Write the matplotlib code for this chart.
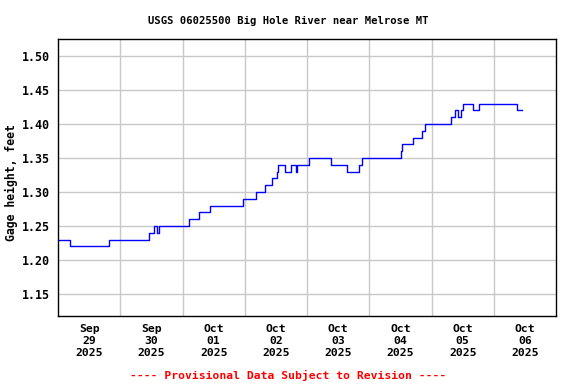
import matplotlib
matplotlib.use("Agg")
import matplotlib.pyplot as plt
from datetime import datetime, timedelta

# gage height steps: (hours after Sep 29 00:00, value in feet)
hours = [0.0, 4.6, 19.7, 35.2, 37.1, 38.0, 39.1, 50.6, 54.5, 58.7,
         71.5, 76.4, 79.9, 82.4, 84.5, 84.9, 87.6, 89.8, 91.8, 92.0,
         96.6, 105.1, 111.3, 115.9, 117.1, 132.1, 132.7, 137.0, 140.4, 141.6,
         151.7, 153.2, 154.3, 155.5, 156.2, 160.1, 162.3, 177.1, 178.9]
gage = [1.23, 1.22, 1.23, 1.24, 1.25, 1.24, 1.25, 1.26, 1.27, 1.28,
        1.29, 1.30, 1.31, 1.32, 1.33, 1.34, 1.33, 1.34, 1.33, 1.34,
        1.35, 1.34, 1.33, 1.34, 1.35, 1.36, 1.37, 1.38, 1.39, 1.40,
        1.41, 1.42, 1.41, 1.42, 1.43, 1.42, 1.43, 1.42, 1.42]

start = datetime(2025, 9, 29)
times = [start + timedelta(hours=h) for h in hours]

yticks = [1.15, 1.20, 1.25, 1.30, 1.35, 1.40, 1.45, 1.50]
day_labels = ["Sep\n29\n2025", "Sep\n30\n2025", "Oct\n01\n2025", "Oct\n02\n2025",
              "Oct\n03\n2025", "Oct\n04\n2025", "Oct\n05\n2025", "Oct\n06\n2025"]

font = "DejaVu Sans Mono"

fig = plt.figure(figsize=(5.76, 3.84), dpi=100)
ax = fig.add_axes([0.1007, 0.1771, 0.8646, 0.7213])

ax.step(times, gage, where="post", color="#0000ff", lw=1.0)

ax.set_xlim(start, start + timedelta(days=8))
ax.set_ylim(1.1177, 1.525)

# gridlines at midnight, labels at noon
midnights = [start + timedelta(days=d) for d in range(1, 8)]
noons = [start + timedelta(days=d, hours=12) for d in range(8)]
ax.set_xticks(midnights)
ax.set_xticklabels([])
ax.set_xticks(noons, minor=True)
ax.set_xticklabels(day_labels, minor=True, fontfamily=font, fontweight="bold", fontsize=8.2)
ax.tick_params(axis="x", which="both", length=0, pad=6)

ax.set_yticks(yticks)
ax.set_yticklabels(["%.2f" % v for v in yticks], fontfamily=font, fontweight="bold", fontsize=8.4)
ax.tick_params(axis="y", length=0, pad=5.5)

ax.grid(True, which="major", color="#c8c8c8", lw=1.0)
ax.set_axisbelow(True)
for s in ax.spines.values():
    s.set_linewidth(1.0)
    s.set_color("black")

ax.set_ylabel("Gage height, feet", fontfamily=font, fontweight="bold", fontsize=8.3)
ax.yaxis.set_label_coords(-0.08, 0.48)

fig.text(0.5, 0.946, "USGS 06025500 Big Hole River near Melrose MT", ha="center", va="center",
         fontfamily=font, fontweight="bold", fontsize=7.6)
fig.text(0.5, 0.023, "---- Provisional Data Subject to Revision ----", ha="center", va="center",
         fontfamily=font, fontweight="bold", fontsize=8.2, color="red")

fig.savefig("out.png", dpi=100)
